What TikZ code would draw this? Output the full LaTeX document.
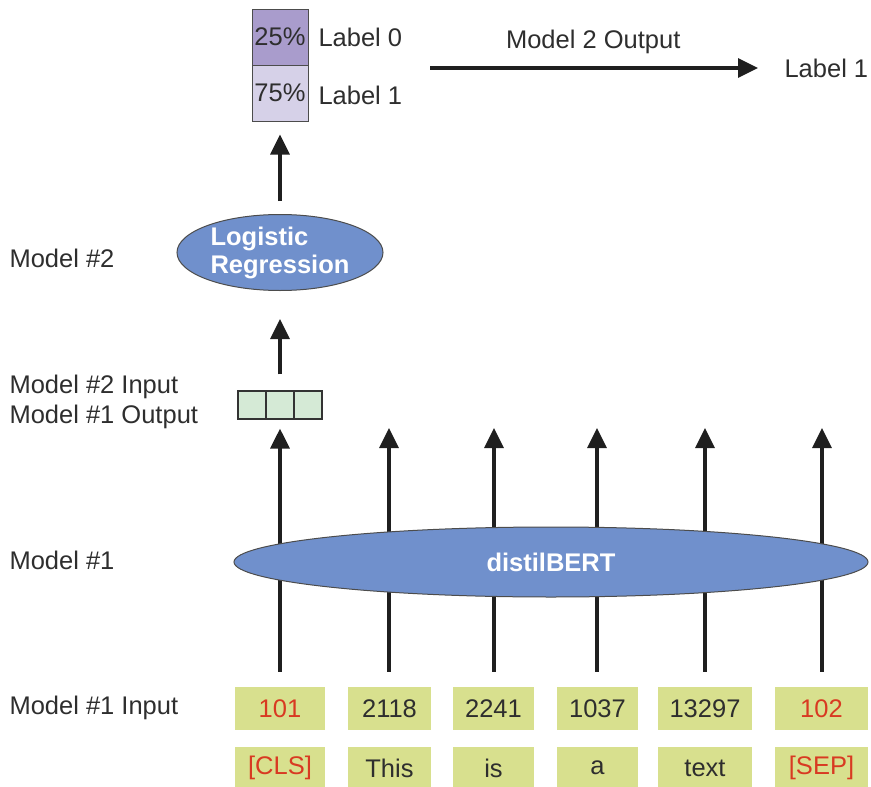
\documentclass[tikz,border=0pt]{standalone}
\usepackage{fontspec}
\setmainfont{Liberation Sans}
\usetikzlibrary{shapes.geometric,arrows.meta}
\definecolor{txt}{HTML}{2E2E2E}
\definecolor{ellblue}{HTML}{7090CC}
\definecolor{tokfill}{HTML}{D8E08E}
\definecolor{tokred}{HTML}{D83A22}
\definecolor{cellgreen}{HTML}{D5EAD6}
\definecolor{probdark}{HTML}{A99CCC}
\definecolor{problight}{HTML}{D6D1E8}
\begin{document}
\begin{tikzpicture}[x=1pt,y=-1pt,
  every node/.style={font=\fontsize{25.5}{30}\selectfont, text=txt},
  tok/.style={fill=tokfill, minimum height=43pt, inner sep=0pt},
  redtxt/.style={text=tokred},
  model/.style={ellipse, draw=black!70, line width=1pt, fill=ellblue,
    font=\fontsize{25.5}{28}\selectfont\bfseries, text=white, inner sep=0pt},
  arr/.style={line width=3.4pt, draw=black!88,
    -{Triangle[length=20pt,width=19pt]}},
  cell/.style={draw=black!80, line width=1.2pt, fill=cellgreen,
    minimum width=28pt, minimum height=28pt, inner sep=0pt},
  prob/.style={draw=black!70, line width=1pt, minimum width=56pt,
    minimum height=56pt, inner sep=0pt},
  side/.style={anchor=west}]
\useasboundingbox (0,0) rectangle (871,787);

% token ids and words
\node[tok, redtxt, minimum width=90pt] (t1) at (280,708.5) {101};
\node[tok, minimum width=83pt] (t2) at (389.5,708.5) {2118};
\node[tok, minimum width=81pt] (t3) at (493.5,708.5) {2241};
\node[tok, minimum width=81pt] (t4) at (597.5,708.5) {1037};
\node[tok, minimum width=94pt] (t5) at (705,708.5) {13297};
\node[tok, redtxt, minimum width=93pt] (t6) at (821.5,708.5) {102};

\node[tok, redtxt, minimum width=90pt] (w1) at (280,768) {[CLS]};
\node[tok, minimum width=83pt] (w2) at (389.5,768) {This};
\node[tok, minimum width=81pt] (w3) at (493.5,768) {is};
\node[tok, minimum width=81pt] (w4) at (597.5,768) {a};
\node[tok, minimum width=94pt] (w5) at (705,768) {text};
\node[tok, redtxt, minimum width=93pt] (w6) at (821.5,768) {[SEP]};

% model #1 output vector
\node[cell] (c1) at (252,405) {};
\node[cell] (c2) at (280,405) {};
\node[cell] (c3) at (308,405) {};

% arrow tips of the token outputs
\coordinate (o2) at (389,428);
\coordinate (o3) at (494,428);
\coordinate (o4) at (597,428);
\coordinate (o5) at (705,428);
\coordinate (o6) at (822,428);

\draw[arr, shorten <=15pt, shorten >=9pt] (t1.north) -- (c2.south);
\foreach \i in {2,...,6}
  \draw[arr, shorten <=15pt] (t\i.north -| o\i) -- (o\i);

% model #1
\node[model, minimum width=634pt, minimum height=70pt] (bert) at (551,562) {distilBERT};

% model #2
\node[model, minimum width=206pt, minimum height=76pt, align=left] (lr) at (280,252.5)
  {Logistic\\Regression};
\draw[arr, shorten <=16pt, shorten >=28pt] (c2.north) -- (lr.south);

% class probabilities
\node[prob, fill=probdark] (p0) at (280,37) {25\%};
\node[prob, fill=problight] (p1) at (280,93) {75\%};
\node[side] (l0) at (315,37) {Label 0};
\node[side] (l1) at (315,95) {Label 1};
\draw[arr, shorten <=13pt, shorten >=13pt] (lr.north) -- (p1.south);

% final prediction
\coordinate (outstart) at (430,68);
\node[side] (res) at (781,68) {Label 1};
\draw[arr, shorten >=23pt] (outstart) -- (res.west) node[pos=0.465, above=9pt] {Model 2 Output};

% row labels
\node[side] (m2) at (6,258) {Model \#2};
\node[side, align=left] (m2in) at (6,402) {Model \#2 Input\\Model \#1 Output};
\node[side] (m1) at (6,560) {Model \#1};
\node[side] (m1in) at (6,708) {Model \#1 Input};
\end{tikzpicture}
\end{document}
